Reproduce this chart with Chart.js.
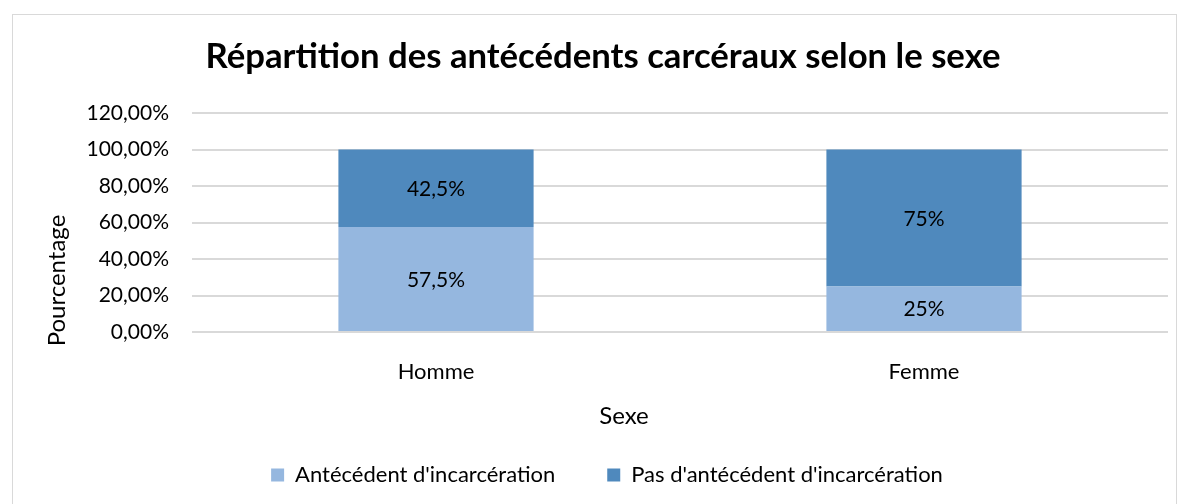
<!DOCTYPE html>
<html><head><meta charset="utf-8">
<script src="https://cdn.jsdelivr.net/npm/chart.js@4.4.1/dist/chart.umd.min.js"></script>
<style>html,body{margin:0;padding:0;background:#fff}#wrap{position:relative;width:1186px;height:504px}</style>
</head><body><div id="wrap"><canvas id="c" width="1186" height="504"></canvas></div>
<script>
const categories = ["Homme", "Femme"];
const seriesNames = ["Antécédent d'incarcération", "Pas d'antécédent d'incarcération"];
const antecedent = [57.5, 25];
const pasAntecedent = [42.5, 75];
const yTicks = [0, 20, 40, 60, 80, 100, 120];
const xAxisTitle = "Sexe";
const yAxisTitle = "Pourcentage";
const FONT = "Lato";

function fmtPct(v){ return String(v).replace('.', ',') + '%'; }

const borderPlugin = {
  id: 'frame',
  beforeDraw(chart){
    const c = chart.ctx;
    c.save();
    c.fillStyle = '#fff';
    c.fillRect(0,0,chart.width,chart.height);
    c.strokeStyle = '#d9d9d9';
    c.lineWidth = 1;
    c.strokeRect(12.5, 14.5, 1164, 500);
    c.restore();
  }
};
const shiftPlugin = {
  id: 'shift',
  afterLayout(chart){
    if (chart.legend){ chart.legend.left += 13; chart.legend.right += 13; }
    if (chart.titleBlock){ chart.titleBlock.left += 9; chart.titleBlock.right += 9; }
  }
};
const axisTitlePlugin = {
  id: 'axisTitles',
  afterDraw(chart){
    const c = chart.ctx, a = chart.chartArea;
    c.save();
    c.font = '24px ' + FONT;
    c.fillStyle = '#000';
    c.textAlign = 'center';
    c.textBaseline = 'middle';
    c.fillText(xAxisTitle, (a.left + a.right) / 2 - 56, a.bottom + 84);
    c.translate(57, (a.top + a.bottom) / 2 + 58);
    c.rotate(-Math.PI / 2);
    c.fillText(yAxisTitle, 0, 0);
    c.restore();
  }
};
const labelPlugin = {
  id: 'dl',
  afterDatasetsDraw(chart){
    const c = chart.ctx;
    c.save();
    c.font = '21px ' + FONT;
    c.fillStyle = '#000';
    c.textAlign = 'center';
    c.textBaseline = 'middle';
    chart.data.datasets.forEach((ds, i) => {
      chart.getDatasetMeta(i).data.forEach((el, j) => {
        const y = (el.y + el.base) / 2;
        c.fillText(fmtPct(ds.data[j]), el.x, y + 1);
      });
    });
    c.restore();
  }
};

new Chart(document.getElementById('c'), {
  type: 'bar',
  data: {
    labels: categories,
    datasets: [
      { label: seriesNames[0], data: antecedent, backgroundColor: '#95B7DF', barPercentage: 0.4, categoryPercentage: 1.0 },
      { label: seriesNames[1], data: pasAntecedent, backgroundColor: '#4F89BD', barPercentage: 0.4, categoryPercentage: 1.0 }
    ]
  },
  options: {
    responsive: false,
    animation: false,
    devicePixelRatio: 1,
    layout: { padding: { left: 20, right: 18, top: 14, bottom: 8 } },
    plugins: {
      title: { display: true, text: 'Répartition des antécédents carcéraux selon le sexe',
        font: { family: FONT, size: 34.7, weight: 'bold' }, color: '#000', padding: { top: 22.2, bottom: 35.2 } },
      legend: { position: 'bottom', labels: { font: { family: FONT, size: 22 }, color: '#000', boxWidth: 13, boxHeight: 13, padding: 52 } },
      tooltip: { enabled: false }
    },
    scales: {
      x: {
        stacked: true,
        grid: { display: false },
        border: { display: false },
        ticks: { font: { family: FONT, size: 22 }, color: '#000', padding: 19 },
        title: { display: false },
        afterFit(s){ s.height = 80; }
      },
      y: {
        stacked: true, min: 0, max: 120,
        afterBuildTicks(s){ s.ticks = yTicks.map(v => ({ value: v })); },
        grid: { color: '#d9d9d9', lineWidth: 2, drawTicks: false },
        border: { display: false },
        ticks: { font: { family: FONT, size: 21 }, color: '#000', padding: 23,
          callback: v => v.toFixed(2).replace('.', ',') + '%' },
        title: { display: false },
        afterFit(s){ s.width = 172; }
      }
    }
  },
  plugins: [borderPlugin, shiftPlugin, axisTitlePlugin, labelPlugin]
});
</script></body></html>
